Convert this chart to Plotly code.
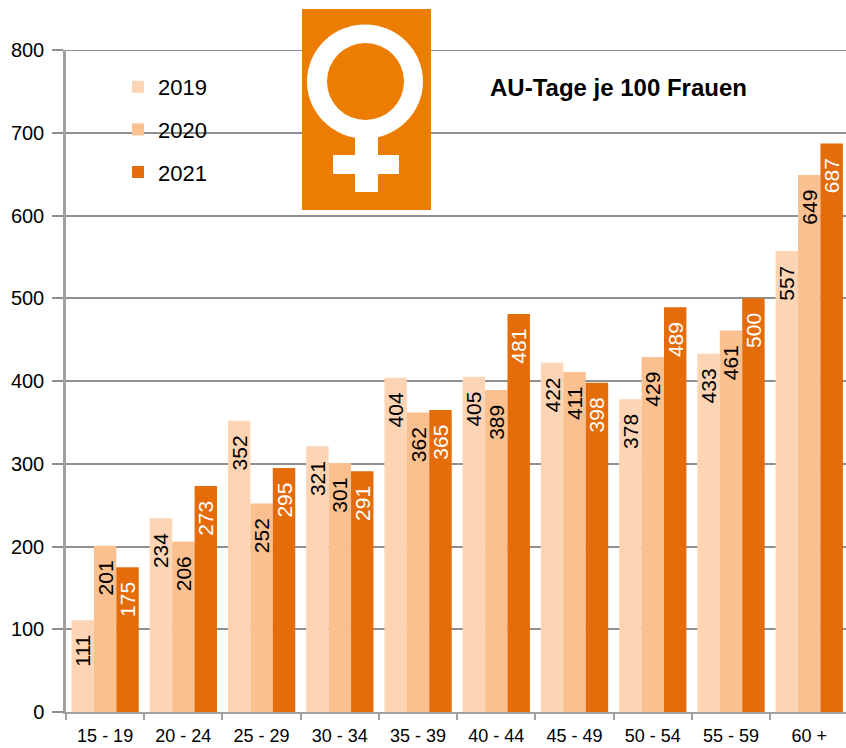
import plotly.graph_objects as go

categories = ["15 - 19", "20 - 24", "25 - 29", "30 - 34", "35 - 39",
              "40 - 44", "45 - 49", "50 - 54", "55 - 59", "60 +"]
v2019 = [111, 234, 352, 321, 404, 405, 422, 378, 433, 557]
v2020 = [201, 206, 252, 301, 362, 389, 411, 429, 461, 649]
v2021 = [175, 273, 295, 291, 365, 481, 398, 489, 500, 687]
yticks = [0, 100, 200, 300, 400, 500, 600, 700, 800]

W, H = 846, 748
L, R, T, B = 66, 0, 50, 36
FONT = "Liberation Sans"
GRID = "#8f8f8f"

def px(x):
    return (x - L) / (W - L - R)

def py(y):
    return 1 - (y - T) / (H - T - B)

fig = go.Figure()
for name, vals, col, tcol in [("2019", v2019, "#fdd5b4", "#000000"),
                              ("2020", v2020, "#fac090", "#000000"),
                              ("2021", v2021, "#e46c0a", "#ffffff")]:
    fig.add_bar(x=categories, y=vals, name=name, legendgroup=name,
                marker=dict(color=col, line_width=0),
                texttemplate="%{y}\u00a0\u00a0", textposition="inside",
                insidetextanchor="end",
                textangle=-90, constraintext="none",
                textfont=dict(family=FONT, size=21, color=tcol),
                cliponaxis=False)

ORANGE = "#ed7d00"
shapes = [
    dict(type="line", xref="paper", yref="y", x0=-0.014, x1=1, y0=800, y1=800,
         line=dict(color=GRID, width=2), layer="below"),
]
icon = [
    dict(type="rect", x0=px(302), x1=px(431), y0=py(210), y1=py(9),
         fillcolor=ORANGE, line_width=0),
    dict(type="circle", x0=px(307), x1=px(423), y0=py(138.5), y1=py(24.5),
         fillcolor="#ffffff", line_width=0),
    dict(type="circle", x0=px(327), x1=px(404), y0=py(120), y1=py(43),
         fillcolor=ORANGE, line_width=0),
    dict(type="rect", x0=px(355), x1=px(378), y0=py(192), y1=py(134),
         fillcolor="#ffffff", line_width=0),
    dict(type="rect", x0=px(333), x1=px(399), y0=py(174), y1=py(155),
         fillcolor="#ffffff", line_width=0),
]
for s in icon:
    s.update(xref="paper", yref="paper", layer="above")
shapes += icon

fig.update_layout(
    width=W, height=H, autosize=False,
    margin=dict(l=L, r=R, t=T, b=B, pad=0),
    paper_bgcolor="#ffffff", plot_bgcolor="#ffffff",
    font=dict(family=FONT, color="#000000"),
    barmode="group", bargap=0.14, bargroupgap=0,
    shapes=shapes,
    showlegend=True,
    legend=dict(x=px(118), y=py(66), xanchor="left", yanchor="top",
                bgcolor="rgba(0,0,0,0)", borderwidth=0,
                font=dict(family=FONT, size=22, color="#000000"),
                itemwidth=30, tracegroupgap=11, traceorder="grouped",
                itemclick=False, itemdoubleclick=False),
    annotations=[dict(text="<b>AU-Tage je 100 Frauen</b>", xref="paper", yref="paper",
                      x=px(618.5), y=py(87), xanchor="center", yanchor="middle",
                      showarrow=False,
                      font=dict(family=FONT, size=24, color="#000000"))],
    xaxis=dict(type="category", tickmode="array", tickvals=categories, ticktext=categories,
               range=[-0.5, 9.47], tickson="boundaries", ticks="outside", ticklen=6,
               tickwidth=2, tickcolor="#a0a0a0", showline=True, linecolor="#a0a0a0",
               linewidth=2, showgrid=False, zeroline=False, ticklabelstandoff=6,
               tickfont=dict(family=FONT, size=18, color="#000000")),
    yaxis=dict(range=[0, 800], tickmode="array", tickvals=yticks, ticks="outside",
               ticklen=11, tickwidth=2, tickcolor=GRID, showline=True,
               linecolor="#a0a0a0", linewidth=2.5, showgrid=True, gridcolor=GRID,
               gridwidth=2, zeroline=False, ticklabelstandoff=4,
               tickfont=dict(family=FONT, size=20, color="#000000")),
)

fig.write_html("out.html", config={"displayModeBar": False},
               post_script="document.body.style.margin='0';")
